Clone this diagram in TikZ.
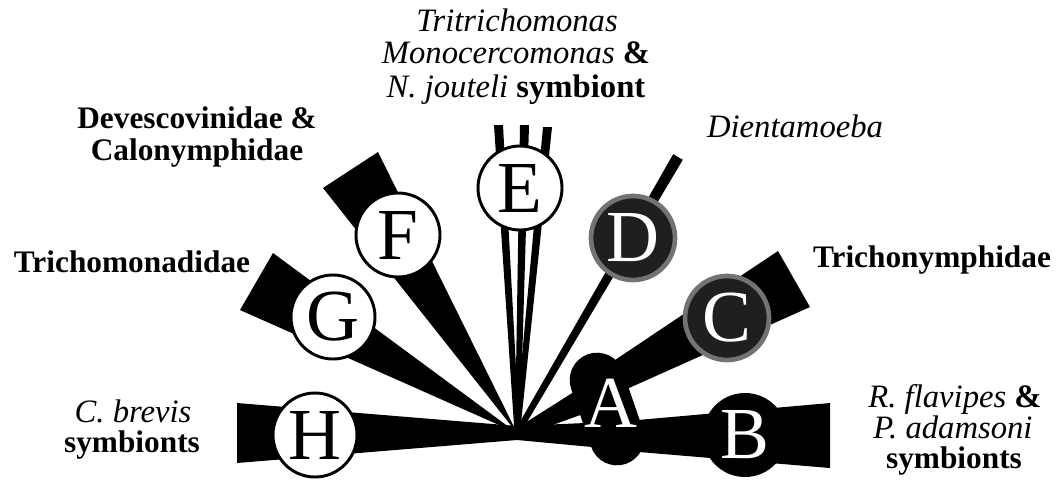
\documentclass[tikz,border=0pt]{standalone}
\usepackage{fontspec}
\setmainfont{Liberation Serif}
\usepackage{tikz}

\tikzset{
  ball/.style={circle, minimum size=63pt, inner sep=0pt, line width=2.2pt, font=\fontsize{55}{55}\selectfont},
  openball/.style={ball, draw=black, fill=white},
  blackball/.style={ball, fill=black, text=white},
  greyball/.style={ball, draw=black!55, line width=3.5pt, fill=black!88, text=white},
  lab/.style={anchor=base, inner sep=0pt, font=\fontsize{23.5}{25}\selectfont\bfseries},
  ital/.style={lab, font=\fontsize{24.5}{25}\selectfont\itshape}
}

\begin{document}
\begin{tikzpicture}[x=0.75pt, y=-0.75pt]
        \useasboundingbox (0,0) rectangle (1059,482);
        \coordinate (o) at (517,433);
        \coordinate (a1) at (597,380);
        \coordinate (a2) at (617,438);

        \fill (o) -- (240,310) -- (273,253) -- cycle;
        \fill (o) -- (323,188) -- (378,152) -- cycle;
        \fill (514.5,433) -- (494,125) -- (503,125) -- (519.5,433) -- cycle;
        \fill (515,433) -- (520,125) -- (529,125) -- (520,433) -- cycle;
        \fill (515,433) -- (543,127) -- (552,127) -- (520,433) -- cycle;
        \fill (514.4,431.5) -- (673.2,154.2) -- (682.8,159.8) -- (519.6,434.5) -- cycle;
        \fill (600,370) -- (778,251) -- (810,307) -- (600,401) -- cycle;
        \fill (517,428) -- (577,390) -- (583,414) -- (550,426) -- (517,438) -- cycle;
        \fill (237,403) -- (517,426) -- (585,423) -- (592,447) -- (517,440) -- (237,463) -- cycle;
        \fill (615,422) -- (830,403) -- (830,468) -- (615,450) -- cycle;
        \draw[line width=41pt, line cap=round] (a1) -- (a2);

        \node[openball] (H) at (315,435) {H};
        \node[openball] (G) at (333,317) {G};
        \node[openball] (F) at (398,235) {F};
        \node[openball] (E) at (520,188) {E};
        \node[greyball] (D) at (633,238) {D};
        \node[greyball] (C) at (727,318) {C};
        \node[blackball] (B) at (745,435) {B};
        \node[text=white, font=\fontsize{55}{55}\selectfont, inner sep=0pt] (A) at (611,403) {A};

        \node[ital] (e1) at (517,31) {Tritrichomonas};
        \node[ital] (e2) at (516,63) {Monocercomonas {\upshape\bfseries\&}};
        \node[ital] (e3) at (516,97) {N. jouteli {\upshape\bfseries symbiont}};
        \node[lab] (f1) at (197,128) {Devescovinidae \&};
        \node[lab] (f2) at (197,160) {Calonymphidae};
        \node[lab] (g1) at (132,272) {Trichomonadidae};
        \node[ital] (h1) at (133,422) {C. brevis};
        \node[lab] (h2) at (132,452) {symbionts};
        \node[ital] (d1) at (795,137) {Dientamoeba};
        \node[lab] (c1) at (932,267) {Trichonymphidae};
        \node[ital] (b1) at (955,407) {R. flavipes {\upshape\bfseries\&}};
        \node[ital] (b2) at (953,438) {P. adamsoni};
        \node[lab] (b3) at (954,468) {symbionts};
\end{tikzpicture}
\end{document}
